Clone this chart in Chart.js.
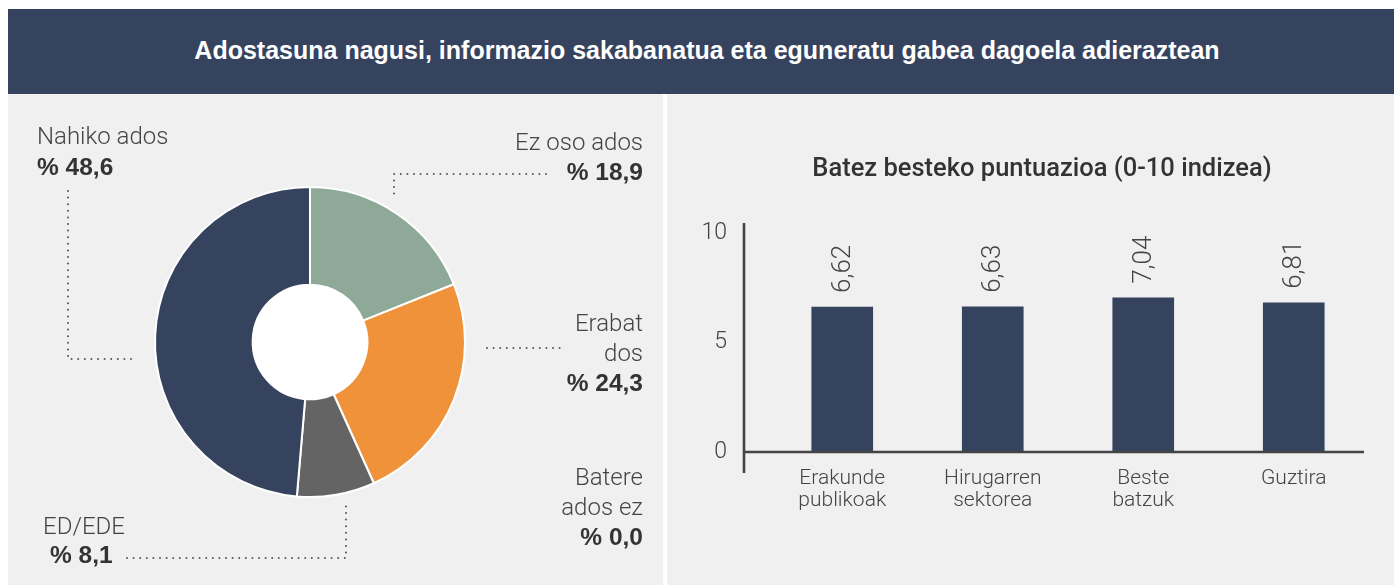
<!DOCTYPE html>
<html><head><meta charset="utf-8">
<script src="https://cdn.jsdelivr.net/npm/chart.js@4.4.0/dist/chart.umd.min.js"></script>
<style>
html,body{margin:0;padding:0;background:#fff;}
body{width:1394px;height:585px;position:relative;overflow:hidden;font-family:"Liberation Sans",Arial,sans-serif;}
#header{position:absolute;left:8px;top:9px;width:1386px;height:85px;background:#36435f;}
#header .t{position:absolute;left:12px;right:0;top:0;line-height:83px;text-align:center;color:#fff;font-weight:bold;font-size:25px;}
#left{position:absolute;left:8px;top:94px;width:655px;height:491px;background:#f0f0f0;}
#right{position:absolute;left:667px;top:94px;width:727px;height:491px;background:#f0f0f0;}
canvas{position:absolute;left:0;top:0;}
.lbl{position:absolute;font-family:Roboto,"Liberation Sans",sans-serif;font-weight:300;font-size:24px;color:#444;line-height:29.5px;white-space:nowrap;}
.lbl b{font-family:"Liberation Sans",Arial,sans-serif;font-weight:bold;color:#333;font-size:24.5px;}
.r{text-align:right;}
#btitle{position:absolute;left:667px;width:750px;top:152px;text-align:center;font-family:Roboto,"Liberation Sans",sans-serif;font-weight:500;font-size:25.5px;color:#333;line-height:30px;white-space:nowrap;}
</style>
</head>
<body>
<div id="header"><div class="t" id="mainTitle"></div></div>
<div id="left"><canvas id="donut" width="655" height="491"></canvas></div>
<div id="right"><canvas id="bars" width="727" height="491"></canvas></div>
<div id="btitle"></div>
<div class="lbl" id="l4" style="left:37px;top:122px;"></div>
<div class="lbl r" id="l0" style="right:751px;top:127px;line-height:30px;"></div>
<div class="lbl r" id="l1" style="right:751px;top:309px;"></div>
<div class="lbl r" id="l2" style="right:751px;top:462px;line-height:30px;"></div>
<div class="lbl" id="l3a" style="left:43px;top:512px;"></div>
<div class="lbl" id="l3b" style="left:50px;top:540px;"></div>
<script>
// ---- data ----
const mainTitle = 'Adostasuna nagusi, informazio sakabanatua eta eguneratu gabea dagoela adieraztean';
const donutLabels = ['Ez oso ados', 'Erabat ados', 'Batere ados ez', 'ED/EDE', 'Nahiko ados'];
const donutDisplay = ['Ez oso ados', 'Erabat<br>dos', 'Batere<br>ados ez', 'ED/EDE', 'Nahiko ados'];
const donutValues = [18.9, 24.3, 0.0, 8.1, 48.6];
const donutColors = ['#8fa998', '#f0923a', '#c9c9c9', '#646464', '#36435f'];

const barTitle = 'Batez besteko puntuazioa (0-10 indizea)';
const categories = [['Erakunde', 'publikoak'], ['Hirugarren', 'sektorea'], ['Beste', 'batzuk'], ['Guztira']];
const scores = [6.62, 6.63, 7.04, 6.81];
const yTicks = [0, 5, 10];

const fmt = v => v.toFixed(2).replace('.', ',');
const pct = v => '% ' + v.toFixed(1).replace('.', ',');

document.getElementById('mainTitle').textContent = mainTitle;
document.getElementById('btitle').textContent = barTitle;
document.getElementById('l4').innerHTML = donutDisplay[4] + '<br><b>' + pct(donutValues[4]) + '</b>';
document.getElementById('l0').innerHTML = donutDisplay[0] + '<br><b>' + pct(donutValues[0]) + '</b>';
document.getElementById('l1').innerHTML = donutDisplay[1] + '<br><b>' + pct(donutValues[1]) + '</b>';
document.getElementById('l2').innerHTML = donutDisplay[2] + '<br><b>' + pct(donutValues[2]) + '</b>';
document.getElementById('l3a').innerHTML = donutDisplay[3];
document.getElementById('l3b').innerHTML = '<b>' + pct(donutValues[3]) + '</b>';

// ---- donut ----
const holePlugin = {
  id: 'hole',
  beforeDatasetsDraw(chart) {
    const arc = chart.getDatasetMeta(0).data[0];
    if (!arc) return;
    const ctx = chart.ctx;
    ctx.save();
    ctx.fillStyle = '#ffffff';
    ctx.beginPath();
    ctx.arc(arc.x, arc.y, arc.innerRadius + 1, 0, Math.PI * 2);
    ctx.fill();
    ctx.restore();
  }
};
// leader lines (canvas coords of the left panel: page - (8,94))
const leaders = [
  [[60, 97], [60, 265], [129, 265]],
  [[538, 80], [386, 80], [386, 105]],
  [[479, 254], [558, 254]],
  [[119, 464], [338, 464], [338, 409]]
];
const leaderPlugin = {
  id: 'leaders',
  afterDraw(chart) {
    const ctx = chart.ctx;
    ctx.save();
    ctx.strokeStyle = '#555';
    ctx.lineWidth = 2;
    ctx.lineCap = 'round';
    ctx.setLineDash([0, 6.6]);
    leaders.forEach(pts => {
      ctx.beginPath();
      pts.forEach((p, i) => i ? ctx.lineTo(p[0], p[1]) : ctx.moveTo(p[0], p[1]));
      ctx.stroke();
    });
    ctx.restore();
  }
};
new Chart(document.getElementById('donut'), {
  type: 'doughnut',
  data: {
    labels: donutLabels,
    datasets: [{
      data: donutValues,
      backgroundColor: donutColors,
      borderColor: '#ffffff',
      borderWidth: 2
    }]
  },
  options: {
    responsive: false,
    animation: false,
    cutout: '37%',
    layout: { padding: { left: 146, right: 197, top: 92, bottom: 87 } },
    plugins: { legend: { display: false }, tooltip: { enabled: false } }
  },
  plugins: [holePlugin, leaderPlugin]
});

// ---- bars ----
const axisPlugin = {
  id: 'axisLines',
  afterDatasetsDraw(chart) {
    const a = chart.chartArea;
    const ctx = chart.ctx;
    const y0 = chart.scales.y.getPixelForValue(0);
    ctx.save();
    ctx.strokeStyle = '#444';
    ctx.lineWidth = 2.6;
    ctx.beginPath();
    ctx.moveTo(a.left - 23, a.top - 10);
    ctx.lineTo(a.left - 23, y0 + 21);
    ctx.moveTo(a.left - 23, y0);
    ctx.lineTo(a.right - 5, y0);
    ctx.stroke();
    // value labels
    const meta = chart.getDatasetMeta(0);
    ctx.fillStyle = '#444';
    ctx.font = '300 26px Roboto, "Liberation Sans", sans-serif';
    ctx.textAlign = 'left';
    ctx.textBaseline = 'middle';
    meta.data.forEach((bar, i) => {
      ctx.save();
      ctx.translate(bar.x + 1, bar.y - 14);
      ctx.rotate(-Math.PI / 2);
      ctx.fillText(fmt(scores[i]), 0, 0);
      ctx.restore();
    });
    ctx.restore();
  }
};
new Chart(document.getElementById('bars'), {
  type: 'bar',
  data: {
    labels: categories,
    datasets: [{
      data: scores,
      backgroundColor: '#36435f',
      barThickness: 61
    }]
  },
  options: {
    responsive: false,
    animation: false,
    layout: { padding: { left: 0, right: 25, top: 139, bottom: 0 } },
    scales: {
      x: {
        grid: { display: false, drawTicks: false },
        border: { display: false },
        ticks: {
          color: '#444',
          padding: 16,
          maxRotation: 0,
          autoSkip: false,
          font: { family: 'Roboto, "Liberation Sans", sans-serif', size: 21, weight: '300', lineHeight: 1.05 }
        },
        afterFit(s) { s.height = 133; }
      },
      y: {
        min: 0, max: 10,
        afterBuildTicks(s) { s.ticks = yTicks.map(v => ({ value: v })); },
        grid: { display: false, drawTicks: false },
        border: { display: false },
        ticks: {
          color: '#444',
          padding: 40,
          font: { family: 'Roboto, "Liberation Sans", sans-serif', size: 23, weight: '300' }
        },
        afterFit(s) { s.width = 100; }
      }
    },
    plugins: { legend: { display: false }, tooltip: { enabled: false } }
  },
  plugins: [axisPlugin]
});
</script>
</body></html>
